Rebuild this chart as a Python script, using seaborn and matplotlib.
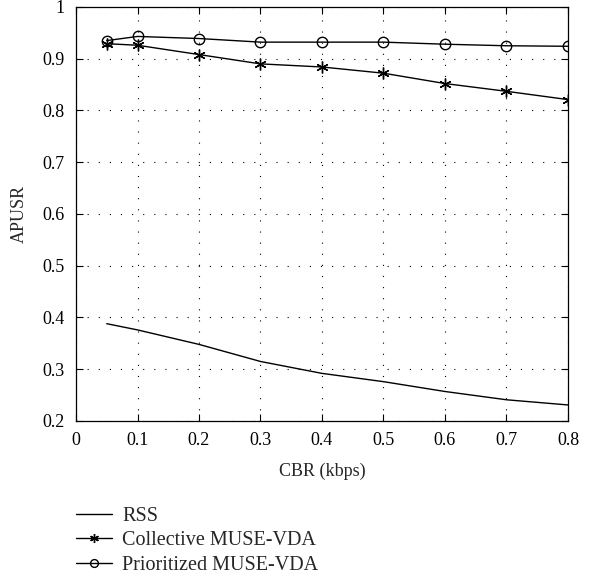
import numpy as np
import pandas as pd
import matplotlib
matplotlib.use("Agg")
import matplotlib.pyplot as plt
import seaborn as sns

# --------------------------------------------------
# Data
# --------------------------------------------------

cbr = [0.05, 0.1, 0.2, 0.3, 0.4, 0.5, 0.6, 0.7, 0.8]
rss = [0.388, 0.376, 0.348, 0.315, 0.292, 0.276, 0.257, 0.241, 0.231]
collective = [0.929, 0.926, 0.908, 0.890, 0.884, 0.872, 0.852, 0.837, 0.821]
prioritized = [0.935, 0.943, 0.939, 0.932, 0.932, 0.932, 0.928, 0.925, 0.924]

x_ticks = [0, 0.1, 0.2, 0.3, 0.4, 0.5, 0.6, 0.7, 0.8]
x_labels = ["0", "0.1", "0.2", "0.3", "0.4", "0.5", "0.6", "0.7", "0.8"]
y_ticks = [0.2, 0.3, 0.4, 0.5, 0.6, 0.7, 0.8, 0.9, 1.0]
y_labels = ["0.2", "0.3", "0.4", "0.5", "0.6", "0.7", "0.8", "0.9", "1"]

# --------------------------------------------------
# Plot
# --------------------------------------------------

sns.set_style("ticks")
plt.rcParams['font.family'] = ['Liberation Serif', 'DejaVu Serif']
plt.rcParams['font.size'] = 13

fig = plt.figure(figsize=(6.14, 5.79), dpi=100)
ax = fig.add_axes([0.1238, 0.2729, 0.8012, 0.7151])

sns.lineplot(x=cbr, y=rss, ax=ax, color='black', linewidth=1.0, label='RSS')
sns.lineplot(x=cbr, y=collective, ax=ax, color='black', linewidth=1.0,
             label='Collective MUSE-VDA')
sns.lineplot(x=cbr, y=prioritized, ax=ax, color='black', linewidth=1.0,
             label='Prioritized MUSE-VDA')

# marker styles set on the drawn lines (asterisk and open circle)
line_col = ax.lines[1]
line_col.set_marker((6, 2, 0))
line_col.set_markersize(8.5)
line_col.set_markeredgewidth(1.0)
line_col.set_markeredgecolor('black')

line_pri = ax.lines[2]
line_pri.set_marker('o')
line_pri.set_markersize(7.5)
line_pri.set_markerfacecolor('none')
line_pri.set_markeredgecolor('black')
line_pri.set_markeredgewidth(1.0)

ax.set_xlim(0, 0.8)
ax.set_ylim(0.2, 1.0)
ax.set_xticks(x_ticks)
ax.set_xticklabels(x_labels)
ax.set_yticks(y_ticks)
ax.set_yticklabels(y_labels)
ax.tick_params(direction='in', top=True, right=True, length=5, width=0.8,
               labelsize=13, colors='black', pad=8)
for s in ax.spines.values():
    s.set_color('black')
    s.set_linewidth(0.9)

ax.grid(True, color='black', linestyle=(0, (1, 9)), linewidth=0.8)

ax.set_xlabel("CBR (kbps)", fontsize=13, labelpad=10)
ax.set_ylabel("APUSR", fontsize=13, labelpad=11)

ax.get_legend().remove()
handles = list(ax.lines[:3])
labels = ['RSS', 'Collective MUSE-VDA', 'Prioritized MUSE-VDA']
fig.legend(handles, labels, loc='upper left', bbox_to_anchor=(0.124, 0.124),
           frameon=False, fontsize=14.5, handlelength=1.8, handletextpad=0.5,
           labelspacing=0.25, borderaxespad=0, borderpad=0, markerscale=0.75)

fig.savefig("out.png", dpi=100)
